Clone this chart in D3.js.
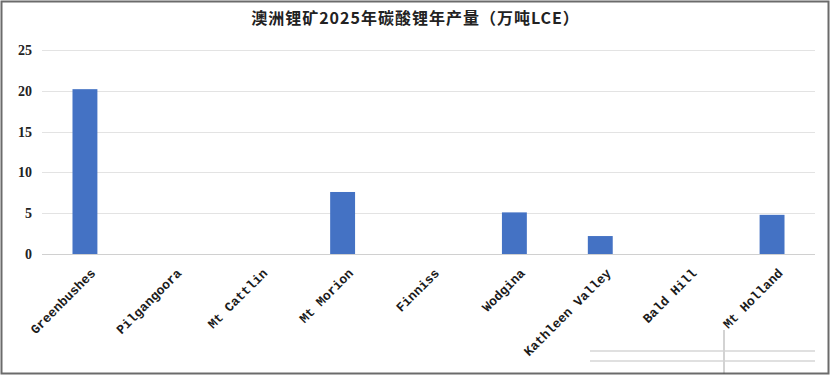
<!DOCTYPE html>
<html>
<head>
<meta charset="utf-8">
<script src="https://cdn.jsdelivr.net/npm/d3@7"></script>
<style>
  body { margin: 0; background: #fff; }
</style>
</head>
<body>
<div id="chart"></div>
<script>
//// data
var mines = ["Greenbushes", "Pilgangoora", "Mt Cattlin", "Mt Morion", "Finniss",
             "Wodgina", "Kathleen Valley", "Bald Hill", "Mt Holland"];
var output2025 = [20.2, 0, 0, 7.6, 0, 5.1, 2.2, 0, 4.8];
var yTicks = [0, 5, 10, 15, 20, 25];
var title = "澳洲锂矿2025年碳酸锂年产量（万吨LCE）";

//// chart
var W = 831, H = 376;
var margin = {top: 50, right: 16, bottom: 122, left: 42},
    width = W - margin.left - margin.right,
    height = H - margin.top - margin.bottom;

var root = d3.select("#chart")
  .append("svg")
    .attr("width", W)
    .attr("height", H);

// frame
root.append("rect")
  .attr("x", 1.5).attr("y", 1.5)
  .attr("width", W - 4).attr("height", H - 4)
  .attr("fill", "none")
  .attr("stroke", "#6b6b6b")
  .attr("stroke-width", 2);

root.append("text")
  .attr("x", W / 2)
  .attr("y", 24)
  .attr("text-anchor", "middle")
  .style("font-family", "'Noto Sans CJK SC', sans-serif")
  .style("font-weight", "bold")
  .style("font-size", "16px")
  .style("letter-spacing", "1px")
  .attr("fill", "#222")
  .text(title);

var svg = root.append("g")
  .attr("transform", "translate(" + margin.left + "," + margin.top + ")");

var x = d3.scaleBand()
  .domain(mines)
  .range([0, width])
  .paddingInner(0.71)
  .paddingOuter(0.355);

var y = d3.scaleLinear()
  .domain([0, 25])
  .range([height, 0]);

// gridlines
svg.append("g")
  .selectAll("line")
  .data(yTicks)
  .enter().append("line")
    .attr("x1", 0)
    .attr("x2", width)
    .attr("y1", function(d) { return Math.round(y(d)) + 0.5; })
    .attr("y2", function(d) { return Math.round(y(d)) + 0.5; })
    .attr("stroke", function(d) { return d === 0 ? "#d0d0d0" : "#e3e3e3"; })
    .attr("stroke-width", 1);

// y axis labels
var yAxis = svg.append("g")
  .call(d3.axisLeft(y).tickValues(yTicks).tickSize(0).tickPadding(10));
yAxis.select(".domain").remove();
yAxis.selectAll("text")
  .style("font-family", "'Liberation Serif', serif")
  .style("font-weight", "bold")
  .style("font-size", "14px")
  .attr("fill", "#222");

// bars
svg.selectAll(".bar")
    .data(mines)
  .enter().append("rect")
    .attr("class", "bar")
    .attr("x", function(d) { return x(d); })
    .attr("width", x.bandwidth())
    .attr("y", function(d, i) { return y(output2025[i]); })
    .attr("height", function(d, i) { return height - y(output2025[i]); })
    .attr("fill", "#4472c4");

// x axis labels
var xAxis = svg.append("g")
  .attr("transform", "translate(0," + height + ")")
  .call(d3.axisBottom(x).tickSize(0).tickPadding(0));
xAxis.select(".domain").remove();
xAxis.selectAll("text")
  .attr("text-anchor", "end")
  .attr("dy", 0)
  .attr("transform", "translate(" + (x.bandwidth() / 2 - 1) + ",20) rotate(-45)")
  .style("font-family", "'Liberation Mono', monospace")
  .style("font-weight", "bold")
  .style("font-size", "13px")
  .attr("fill", "#1a1a1a");

// faint artifact lines bottom right
var art = root.append("g").attr("opacity", 0.25);
[351, 361].forEach(function(yy) {
  art.append("line")
    .attr("x1", 590).attr("x2", 815)
    .attr("y1", yy).attr("y2", yy)
    .attr("stroke", "#888").attr("stroke-width", 2);
});
art.append("line")
  .attr("x1", 724).attr("x2", 724)
  .attr("y1", 330).attr("y2", 374)
  .attr("stroke", "#555").attr("stroke-width", 2);
</script>
</body>
</html>
